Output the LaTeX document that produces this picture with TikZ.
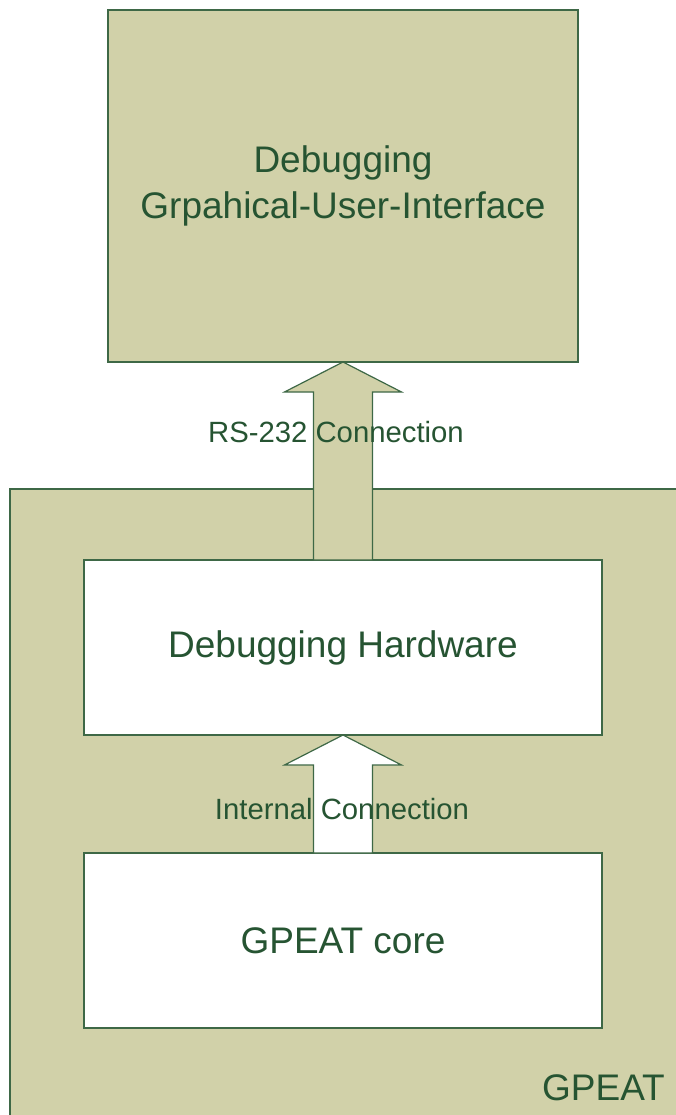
\documentclass[tikz,border=0pt]{standalone}
\usepackage{fontspec}
\setmainfont{Liberation Sans}
\usepackage{tikz}
\usetikzlibrary{
  positioning,
  calc
}
\definecolor{khakibg}{RGB}{209,209,169}
\definecolor{boxborder}{RGB}{62,104,70}
\definecolor{textgreen}{RGB}{38,84,50}
\tikzset{
  gpeatbox/.style={
    draw=boxborder, fill=khakibg, line width=1.2pt,
    inner sep=0pt, outer sep=0pt, anchor=north west
  },
  blockbox/.style={
    draw=boxborder, fill=white, line width=1.2pt,
    inner sep=0pt, outer sep=0pt,
    minimum width=518pt, minimum height=175pt,
    font=\fontsize{37}{46}\selectfont, text=textgreen, align=center
  },
  bigarrow/.style={
    draw=boxborder, line width=1.2pt, line join=miter
  },
  conlabel/.style={
    font=\fontsize{29.3}{35}\selectfont, text=textgreen, inner sep=0pt
  }
}
\begin{document}
\begin{tikzpicture}[x=1pt, y=-1pt]
    \useasboundingbox (0,0) rectangle (675,1115);

    % Outer GPEAT area and the GUI box
    \node[gpeatbox, minimum width=667pt, minimum height=628pt] (gpeat) at (10,489) {};
    \node[gpeatbox, minimum width=470pt, minimum height=352pt,
      font=\fontsize{37}{46}\selectfont, text=textgreen, align=center] (gui) at (108,10)
      {Debugging\\Grpahical-User-Interface};

    % Inner blocks
    \node[blockbox, anchor=north west] (hw) at (84,560) {Debugging Hardware};
    \node[blockbox, anchor=north west] (core) at (84,853) {GPEAT core};

    % Block arrows
    \draw[bigarrow, fill=khakibg] ($(hw.north)+(-29.5,0)$) -- ($(gui.south)+(-29.5,30)$)
      -- ($(gui.south)+(-58.5,30)$) -- (gui.south) -- ($(gui.south)+(58.5,30)$)
      -- ($(gui.south)+(29.5,30)$) -- ($(hw.north)+(29.5,0)$) -- cycle;
    \draw[bigarrow, fill=white] ($(core.north)+(-29.5,0)$) -- ($(hw.south)+(-29.5,30)$)
      -- ($(hw.south)+(-58.5,30)$) -- (hw.south) -- ($(hw.south)+(58.5,30)$)
      -- ($(hw.south)+(29.5,30)$) -- ($(core.north)+(29.5,0)$) -- cycle;

    % Labels
    \node[conlabel] (rslabel) at (336,432) {RS-232 Connection};
    \node[conlabel] (intlabel) at (342,809) {Internal Connection};
    \node[conlabel, font=\fontsize{37}{46}\selectfont, anchor=base east] (gpeatlabel) at (665,1100) {GPEAT};

  \end{tikzpicture}
\end{document}
